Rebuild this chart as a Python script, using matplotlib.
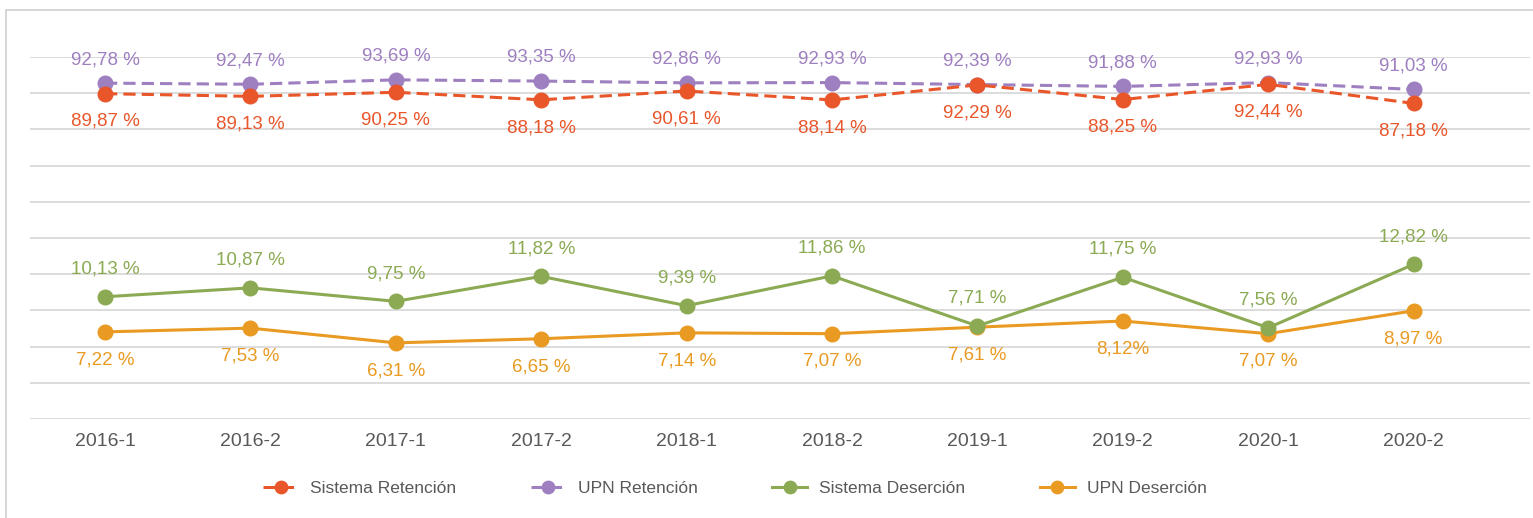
import matplotlib
matplotlib.use("Agg")
import matplotlib.pyplot as plt
from matplotlib.patches import Rectangle

plt.rcParams['font.family'] = ['Liberation Sans', 'DejaVu Sans']

# Data
periods = ["2016-1", "2016-2", "2017-1", "2017-2", "2018-1",
           "2018-2", "2019-1", "2019-2", "2020-1", "2020-2"]
sistema_retencion = [89.87, 89.13, 90.25, 88.18, 90.61, 88.14, 92.29, 88.25, 92.44, 87.18]
upn_retencion = [92.78, 92.47, 93.69, 93.35, 92.86, 92.93, 92.39, 91.88, 92.93, 91.03]
sistema_desercion = [10.13, 10.87, 9.75, 11.82, 9.39, 11.86, 7.71, 11.75, 7.56, 12.82]
upn_desercion = [7.22, 7.53, 6.31, 6.65, 7.14, 7.07, 7.61, 8.12, 7.07, 8.97]

C_SR = '#E8562A'
C_UR = '#9E7FC0'
C_SD = '#8BAA53'
C_UD = '#E99A22'
TXT = '#595959'


def fmt(v):
    return f"{v:.2f}".replace('.', ',') + " %"


upn_des_labels = [fmt(v) for v in upn_desercion]
upn_des_labels[7] = "8,12%"  # as printed in the source

fig = plt.figure(figsize=(15.33, 5.18), dpi=100)
fig.patches.append(Rectangle((6 / 1533, -0.1), 1.2, (508 / 518) + 0.1,
                             transform=fig.transFigure, fill=False,
                             edgecolor='#D0D0D0', linewidth=1.2))

ax = fig.add_axes([30 / 1533, 99 / 518, 1500 / 1533, 362 / 518])
ax2 = ax.twinx()

x = list(range(len(periods)))

# retention on the main axis (0-100), desertion on the secondary (0-30)
ax.set_ylim(0, 100)
ax.set_yticks(range(0, 101, 10))
ax2.set_ylim(0, 30)
ax2.set_yticks([])
ax.set_xlim(-0.516, 9.8)

ax.grid(axis='y', color='#D9D9D9', linewidth=1.3)
ax.set_axisbelow(True)
for a in (ax, ax2):
    for s in a.spines.values():
        s.set_visible(False)
ax.tick_params(axis='y', left=False, labelleft=False)
ax.tick_params(axis='x', length=0, pad=10, labelsize=14, labelcolor=TXT)
ax.set_xticks(x)
ax.set_xticklabels(periods)

l1, = ax.plot(x, sistema_retencion, color=C_SR, lw=2.2, ls=(0, (4, 2)),
              marker='o', ms=10.5, label='Sistema Retención', zorder=4)
l2, = ax.plot(x, upn_retencion, color=C_UR, lw=2.2, ls=(0, (4, 2)),
              marker='o', ms=10.5, label='UPN Retención', zorder=3)
l3, = ax2.plot(x, sistema_desercion, color=C_SD, lw=2.2,
               marker='o', ms=10.5, label='Sistema Deserción', zorder=4)
l4, = ax2.plot(x, upn_desercion, color=C_UD, lw=2.2,
               marker='o', ms=10.5, label='UPN Deserción', zorder=3)

fs = 13.5
for xi, v in zip(x, upn_retencion):
    ax.annotate(fmt(v), (xi, v), xytext=(0, 17), textcoords='offset points',
                ha='center', va='center', color=C_UR, fontsize=fs)
for xi, v in zip(x, sistema_retencion):
    ax.annotate(fmt(v), (xi, v), xytext=(0, -20), textcoords='offset points',
                ha='center', va='center', color=C_SR, fontsize=fs)
for xi, v in zip(x, sistema_desercion):
    ax2.annotate(fmt(v), (xi, v), xytext=(0, 20), textcoords='offset points',
                 ha='center', va='center', color=C_SD, fontsize=fs)
for xi, v, lab in zip(x, upn_desercion, upn_des_labels):
    ax2.annotate(lab, (xi, v), xytext=(0, -20), textcoords='offset points',
                 ha='center', va='center', color=C_UD, fontsize=fs)

leg = fig.legend(handles=[l1, l2, l3, l4], loc='center', ncol=4,
                 bbox_to_anchor=(735 / 1533, 30 / 518), frameon=False,
                 fontsize=12.5, handlelength=2.0, columnspacing=4.3,
                 handletextpad=0.7, markerscale=0.85)
for t in leg.get_texts():
    t.set_color(TXT)

fig.savefig('out.png', dpi=100)
